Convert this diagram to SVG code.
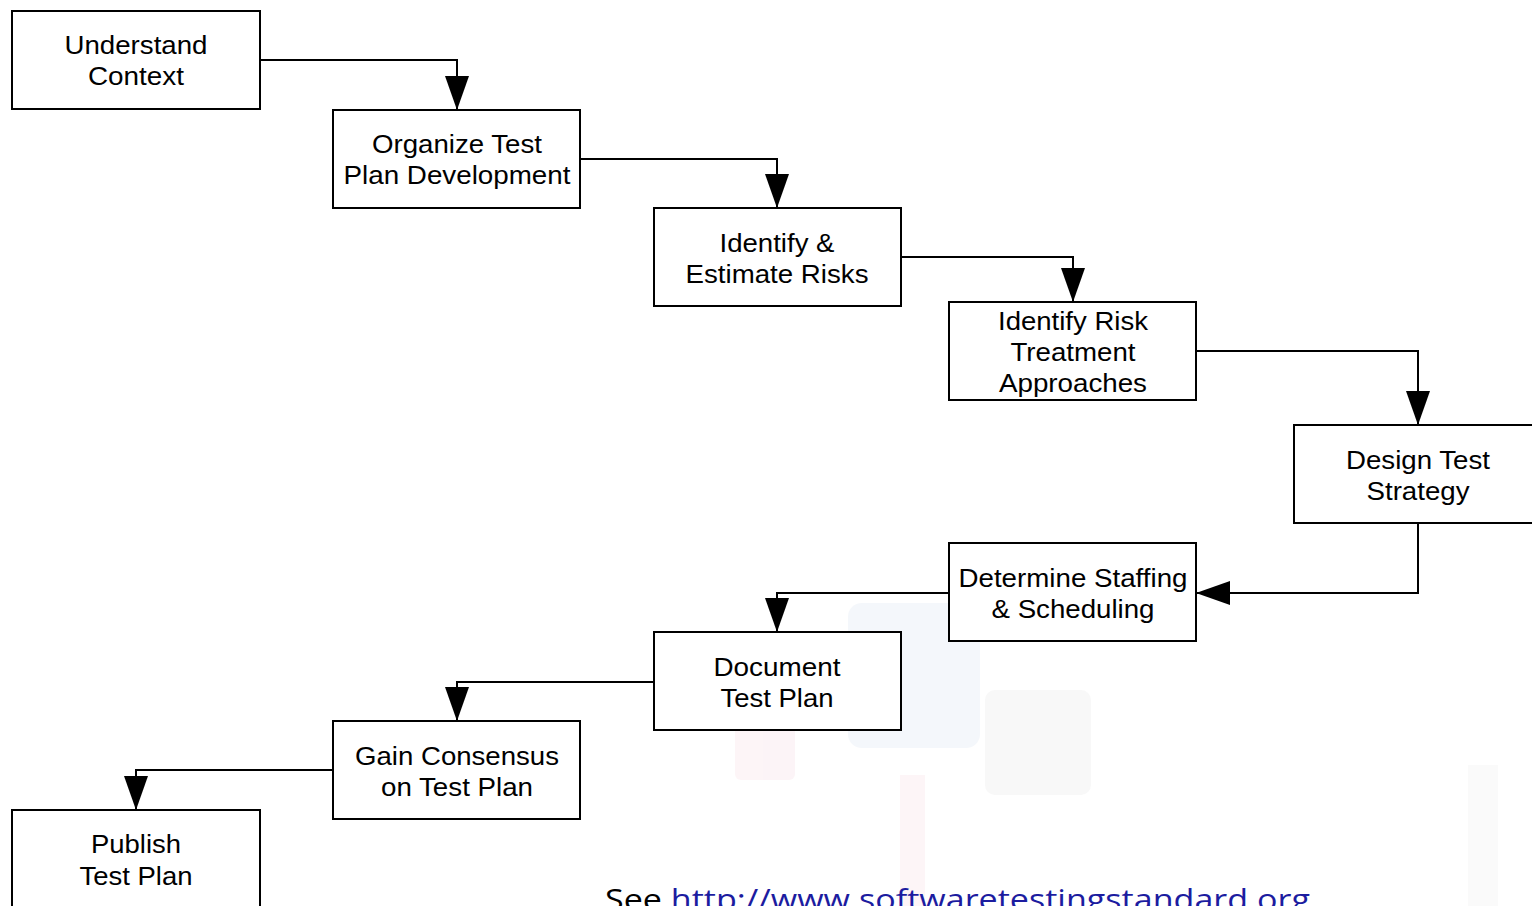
<svg xmlns="http://www.w3.org/2000/svg" width="1532" height="906" viewBox="0 0 1532 906">
<defs>
<style>
.box{fill:#fff;stroke:#000;stroke-width:2}
.lbl{font-family:"Liberation Sans",Arial,sans-serif;font-size:25px;fill:#000;text-anchor:middle}
.con{fill:none;stroke:#000;stroke-width:2}
.wm{stroke:none}
</style>
<marker id="ah" markerUnits="userSpaceOnUse" markerWidth="36" markerHeight="24" refX="34" refY="12" orient="auto">
<path d="M0,0 L34,12 L0,24 Z" fill="#000"/>
</marker>
</defs>
<rect width="1532" height="906" fill="#fff"/>
<g id="watermark" opacity="0.6">
<rect class="wm" x="848" y="603" width="132" height="145" rx="14" fill="#eef3f9"/>
<rect class="wm" x="735" y="680" width="60" height="100" rx="6" fill="#fbeef2"/>
<rect class="wm" x="985" y="690" width="106" height="105" rx="10" fill="#f4f4f4"/>
<rect class="wm" x="900" y="775" width="25" height="131" fill="#fcf0f3"/>
<rect class="wm" x="1468" y="765" width="30" height="141" fill="#f6f6f6"/>
</g>
<g id="connectors">
<path class="con" d="M260,60 H457 V110" marker-end="url(#ah)"/>
<path class="con" d="M580,159 H777 V208" marker-end="url(#ah)"/>
<path class="con" d="M901,257 H1073 V302" marker-end="url(#ah)"/>
<path class="con" d="M1196,351 H1418 V425" marker-end="url(#ah)"/>
<path class="con" d="M1418,523 V593 H1196" marker-end="url(#ah)"/>
<path class="con" d="M949,593 H777 V632" marker-end="url(#ah)"/>
<path class="con" d="M654,682 H457 V721" marker-end="url(#ah)"/>
<path class="con" d="M333,770 H136 V810" marker-end="url(#ah)"/>
</g>
<g id="n1"><rect class="box" x="12" y="11" width="248" height="98"/><text class="lbl" x="136" y="54" textLength="143" lengthAdjust="spacingAndGlyphs">Understand</text><text class="lbl" x="136" y="85" textLength="96" lengthAdjust="spacingAndGlyphs">Context</text></g>
<g id="n2"><rect class="box" x="333" y="110" width="247" height="98"/><text class="lbl" x="457" y="153" textLength="170" lengthAdjust="spacingAndGlyphs">Organize Test</text><text class="lbl" x="457" y="184" textLength="227" lengthAdjust="spacingAndGlyphs">Plan Development</text></g>
<g id="n3"><rect class="box" x="654" y="208" width="247" height="98"/><text class="lbl" x="777" y="252" textLength="115" lengthAdjust="spacingAndGlyphs">Identify &amp;</text><text class="lbl" x="777" y="283" textLength="183" lengthAdjust="spacingAndGlyphs">Estimate Risks</text></g>
<g id="n4"><rect class="box" x="949" y="302" width="247" height="98"/><text class="lbl" x="1073" y="330" textLength="150" lengthAdjust="spacingAndGlyphs">Identify Risk</text><text class="lbl" x="1073" y="361" textLength="125" lengthAdjust="spacingAndGlyphs">Treatment</text><text class="lbl" x="1073" y="392" textLength="148" lengthAdjust="spacingAndGlyphs">Approaches</text></g>
<g id="n5"><rect class="box" x="1294" y="425" width="250" height="98"/><text class="lbl" x="1418" y="469" textLength="144" lengthAdjust="spacingAndGlyphs">Design Test</text><text class="lbl" x="1418" y="500" textLength="103" lengthAdjust="spacingAndGlyphs">Strategy</text></g>
<g id="n6"><rect class="box" x="949" y="543" width="247" height="98"/><text class="lbl" x="1073" y="587" textLength="229" lengthAdjust="spacingAndGlyphs">Determine Staffing</text><text class="lbl" x="1073" y="618" textLength="163" lengthAdjust="spacingAndGlyphs">&amp; Scheduling</text></g>
<g id="n7"><rect class="box" x="654" y="632" width="247" height="98"/><text class="lbl" x="777" y="676" textLength="127" lengthAdjust="spacingAndGlyphs">Document</text><text class="lbl" x="777" y="707" textLength="113" lengthAdjust="spacingAndGlyphs">Test Plan</text></g>
<g id="n8"><rect class="box" x="333" y="721" width="247" height="98"/><text class="lbl" x="457" y="765" textLength="204" lengthAdjust="spacingAndGlyphs">Gain Consensus</text><text class="lbl" x="457" y="796" textLength="152" lengthAdjust="spacingAndGlyphs">on Test Plan</text></g>
<g id="n9"><rect class="box" x="12" y="810" width="248" height="110"/><text class="lbl" x="136" y="853" textLength="90" lengthAdjust="spacingAndGlyphs">Publish</text><text class="lbl" x="136" y="885" textLength="113" lengthAdjust="spacingAndGlyphs">Test Plan</text></g>
<text x="605" y="910" font-family="'Open Sans','DejaVu Sans',sans-serif" font-size="29" textLength="705" lengthAdjust="spacingAndGlyphs"><tspan fill="#000">See </tspan><tspan fill="#1c1ca0">http://www.softwaretestingstandard.org</tspan></text>
</svg>
